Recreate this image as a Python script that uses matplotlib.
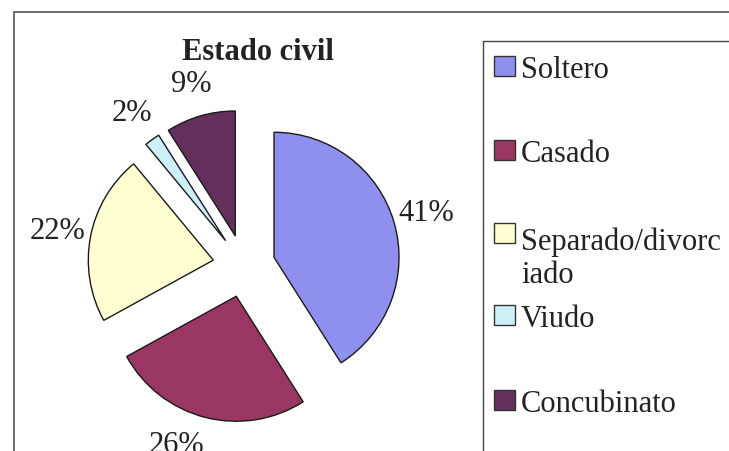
import matplotlib
matplotlib.use("Agg")
import matplotlib.pyplot as plt
from matplotlib.patches import Rectangle

# datos
categorias = ["Soltero", "Casado", "Separado/divorc\niado", "Viudo", "Concubinato"]
porcentajes = [41, 26, 22, 2, 9]
colores = ["#8f8ff0", "#9a3662", "#ffffd2", "#cdeff8", "#62305a"]
titulo = "Estado civil"

W, H = 729, 452
plt.rcParams['font.family'] = ['Liberation Serif', 'DejaVu Serif']
texto = "#222222"
fs = 22

fig = plt.figure(figsize=(W / 100, H / 100), dpi=100)

# pie axes : centre en pixels (244, 267), rayon 125 px
cx, cy, r = 244, 267, 125
ax = fig.add_axes([0, 0, 1, 1])
wedges, _, autotexts = ax.pie(porcentajes, colors=colores, startangle=90, counterclock=False,
                              explode=[0.25] * len(porcentajes), autopct='%1.0f%%',
                              pctdistance=1.27,
                              wedgeprops=dict(edgecolor="#1a1a1a", linewidth=1.0),
                              textprops=dict(fontsize=fs, color=texto))
ax.set_xlim(-cx / r, (W - cx) / r)
ax.set_ylim(-(H - cy) / r, cy / r)
ax.axis('off')

# l'étiquette du bas est un peu décalée à gauche dans l'original
px_, py_ = autotexts[1].get_position()
autotexts[1].set_position((px_ - 20 / r, py_ + 6 / r))

def fx(x):
    return x / W

def fy(y):
    return 1 - y / H

# cadre exterieur
fig.patches.append(Rectangle((fx(14), fy(H + 10)), 1.0, fy(13) - fy(H + 10), transform=fig.transFigure,
                             fill=False, edgecolor="#555555", linewidth=1.2))

fig.text(fx(258), fy(52), titulo, ha='center', va='center', fontsize=fs, fontweight='bold', color=texto)

# légende faite à la main (espacement irrégulier comme Excel)
fig.patches.append(Rectangle((fx(483), fy(H + 10)), 1.0, fy(42) - fy(H + 10), transform=fig.transFigure,
                             fill=False, edgecolor="#444444", linewidth=1.0))
bases = [78, 162, 245, 327, 412]   # baseline de la 1ere ligne
interligne = 38
for lab, col, b in zip(categorias, colores, bases):
    fig.patches.append(Rectangle((fx(494), fy(b - 1)), 21 / W, 20 / H, transform=fig.transFigure,
                                 facecolor=col, edgecolor="#333333", linewidth=1.0))
    # va='baseline' aligne la derniere ligne
    n = lab.count("\n")
    fig.text(fx(521), fy(b + n * interligne), lab, ha='left', va='baseline', fontsize=fs, color=texto,
             linespacing=1.2)

fig.savefig("out.png", dpi=100)
